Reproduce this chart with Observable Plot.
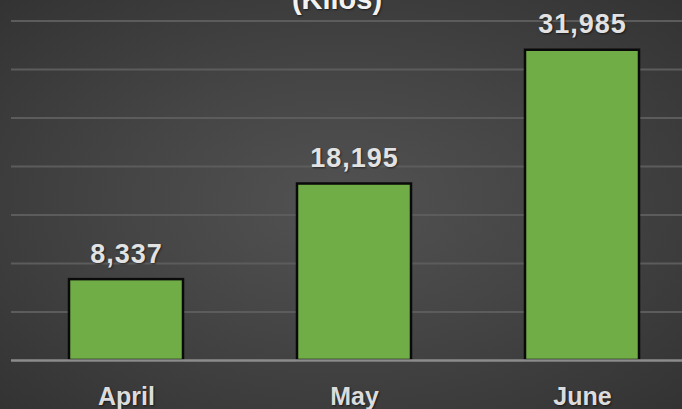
<!DOCTYPE html>
<html>
<head>
<meta charset="utf-8">
<script src="https://cdn.jsdelivr.net/npm/d3@7"></script>
<script src="https://cdn.jsdelivr.net/npm/@observablehq/plot@0.6"></script>
<style>
  html, body { margin: 0; padding: 0; background: #3a3a3a; overflow: hidden; }
  #chart svg text { text-shadow: 1px 1px 2px rgba(0,0,0,0.55); }
</style>
</head>
<body>
<div id="chart"></div>
<script>
const title = "(Kilos)";
const months = ["April", "May", "June"];
const kilos = [8337, 18195, 31985];
const gridValues = [5000, 10000, 15000, 20000, 25000, 30000, 35000];

const data = months.map((m, i) => ({month: m, value: kilos[i]}));
const fmt = d3.format(",");

const chart = Plot.plot({
  width: 682,
  height: 409,
  marginLeft: 11,
  marginRight: 0,
  marginTop: 0,
  marginBottom: 0,
  style: {
    background: "radial-gradient(ellipse at 50% 50%, #525252 0%, #454545 45%, #333333 100%)",
    fontFamily: "'Liberation Sans', Arial, sans-serif",
    overflow: "visible"
  },
  x: {domain: months, range: [11.5, 695.5], paddingInner: 0.5, paddingOuter: 0.25, axis: null},
  y: {domain: [0, 35000], range: [360, 20.5], axis: null},
  marks: [
    Plot.ruleY(gridValues, {stroke: "#5c5c5c", strokeWidth: 2}),
    Plot.barY(data, {x: "month", y: "value", fill: "#70ad47", stroke: "#0a0a0a", strokeWidth: 2.5}),
    Plot.ruleY([0], {stroke: "#8c8c8c", strokeWidth: 2.5}),
    Plot.text(data, {x: "month", y: "value", text: d => fmt(d.value), dy: -17, lineAnchor: "bottom",
      fill: "#e2e2e2", fontSize: 27, fontWeight: "bold", style: "letter-spacing: 1px"}),
    Plot.text(months, {x: d => d, frameAnchor: "bottom", lineAnchor: "bottom", dy: -5,
      fill: "#dcdcdc", fontSize: 25, fontWeight: "bold"}),
    Plot.text([title], {frameAnchor: "top", lineAnchor: "bottom", dy: 8, dx: -10,
      fill: "#f2f2f2", fontSize: 29, fontWeight: "bold"})
  ]
});
chart.querySelectorAll("text").forEach(t => {
  if (/^\d/.test(t.textContent)) t.setAttribute("letter-spacing", "1");
});
document.getElementById("chart").appendChild(chart);
</script>
</body>
</html>
